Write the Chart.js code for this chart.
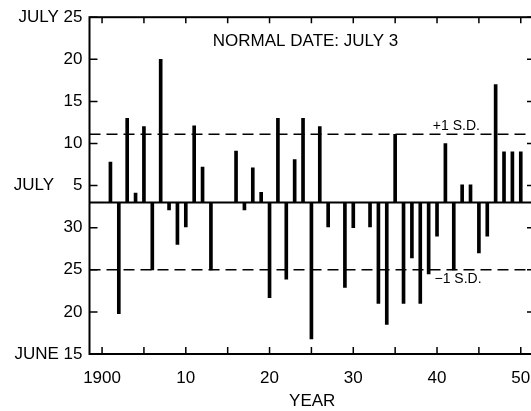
<!DOCTYPE html>
<html>
<head>
<meta charset="utf-8">
<script src="https://cdn.jsdelivr.net/npm/chart.js@4/dist/chart.umd.min.js"></script>
<style>
  html, body { margin: 0; padding: 0; background: #fff; overflow: hidden; }
  #wrap { width: 531px; height: 411px; overflow: hidden; position: relative; }
  #chart { display: block; }
</style>
</head>
<body>
<div id="wrap"><canvas id="chart" width="560" height="411"></canvas></div>
<script>
// days counted from June 30 (0 = June 30, 5 = July 5, -5 = June 25)
var years = [1900, 1901, 1902, 1903, 1904, 1905, 1906, 1907, 1908, 1909,
             1910, 1911, 1912, 1913, 1914, 1915, 1916, 1917, 1918, 1919,
             1920, 1921, 1922, 1923, 1924, 1925, 1926, 1927, 1928, 1929,
             1930, 1931, 1932, 1933, 1934, 1935, 1936, 1937, 1938, 1939,
             1940, 1941, 1942, 1943, 1944, 1945, 1946, 1947, 1948, 1949, 1950];
var onsetDay = [3, 7.8, -10.2, 13, 4.1, 12, -5, 20, 2.1, -2,
                0.1, 12.1, 7.2, -5, 3, 3, 9.1, 2.1, 7.1, 4.2,
                -8.3, 13, -6.1, 8.1, 13, -13.2, 12, 0.1, 3, -7.1,
                0, 3, 0.1, -9, -11.5, 11.1, -9, -3.6, -9, -5.5,
                -1, 10, -5, 5.1, 5.1, -3, -1, 17, 9, 9, 9];

var normalDay = 3;      // July 3
var plusSD = 11.1;
var minusSD = -5;

var yTickValues = [-15, -10, -5, 0, 5, 10, 15, 20, 25];
var yTickLabels = ['JUNE 15', '20', '25', '30', 'JULY    5', '10', '15', '20', 'JULY 25'];
var xTickValues = [1900, 1905, 1910, 1915, 1920, 1925, 1930, 1935, 1940, 1945, 1950];
var xTickLabels = ['1900', '', '10', '', '20', '', '30', '', '40', '', '50'];

var xMin = 1898.5, xMax = 1951.7;
var FONT = 'Liberation Sans, Arial, Helvetica, sans-serif';

var bars = years.map(function (yr, i) {
  return { x: yr, y: [normalDay, onsetDay[i]] };
});

function flatLine(v) {
  return [{ x: xMin, y: v }, { x: xMax, y: v }];
}

// frame with inward ticks, plus the text notes inside the plot
var framePlugin = {
  id: 'frame',
  afterDatasetsDraw: function (chart) {
    var ctx = chart.ctx, a = chart.chartArea;
    var xs = chart.scales.x, ys = chart.scales.y;
    ctx.save();
    ctx.strokeStyle = '#000';
    ctx.lineWidth = 2;
    ctx.strokeRect(a.left, a.top, a.right - a.left, a.bottom - a.top);
    ctx.lineWidth = 1.5;
    ctx.beginPath();
    xTickValues.forEach(function (v) {
      var px = xs.getPixelForValue(v);
      ctx.moveTo(px, a.bottom); ctx.lineTo(px, a.bottom - 7);
      ctx.moveTo(px, a.top); ctx.lineTo(px, a.top + 6);
    });
    yTickValues.forEach(function (v) {
      var py = ys.getPixelForValue(v);
      ctx.moveTo(a.left, py); ctx.lineTo(a.left + 8, py);
      ctx.moveTo(a.right, py); ctx.lineTo(a.right - 8, py);
    });
    ctx.stroke();

    ctx.fillStyle = '#000';
    ctx.textBaseline = 'middle';
    ctx.font = '17px ' + FONT;
    ctx.textAlign = 'center';
    ctx.fillText('NORMAL DATE: JULY 3', xs.getPixelForValue(1924.3), ys.getPixelForValue(22.1));
    ctx.font = '14px ' + FONT;
    ctx.textAlign = 'left';
    ctx.fillText('+1 S.D.', xs.getPixelForValue(1939.5), ys.getPixelForValue(12.1));
    ctx.fillText('\u22121 S.D.', xs.getPixelForValue(1939.7), ys.getPixelForValue(-6.1));
    ctx.restore();
  }
};

new Chart(document.getElementById('chart').getContext('2d'), {
  data: {
    datasets: [
      {
        type: 'bar',
        data: bars,
        backgroundColor: '#000',
        barThickness: 3,
        order: 1
      },
      {
        type: 'line',
        data: flatLine(normalDay),
        borderColor: '#000',
        borderWidth: 2,
        pointRadius: 0,
        order: 2
      },
      {
        type: 'line',
        data: flatLine(plusSD),
        borderColor: '#000',
        borderWidth: 1.5,
        borderDash: [11, 6],
        pointRadius: 0,
        order: 3
      },
      {
        type: 'line',
        data: flatLine(minusSD),
        borderColor: '#000',
        borderWidth: 1.5,
        borderDash: [11, 6],
        pointRadius: 0,
        order: 4
      }
    ]
  },
  options: {
    responsive: false,
    animation: false,
    layout: { padding: { top: 17, right: 25, left: 0, bottom: 0 } },
    plugins: {
      legend: { display: false },
      title: { display: false },
      tooltip: { enabled: false }
    },
    scales: {
      x: {
        type: 'linear',
        offset: false,
        min: xMin,
        max: xMax,
        grid: { display: false, drawTicks: false },
        border: { display: false },
        afterBuildTicks: function (s) {
          s.ticks = xTickValues.map(function (v) { return { value: v }; });
        },
        afterFit: function (s) { s.height = 57; },
        ticks: {
          color: '#000',
          padding: 14,
          maxRotation: 0,
          autoSkip: false,
          font: { family: FONT, size: 17 },
          callback: function (v) { return xTickLabels[xTickValues.indexOf(v)]; }
        },
        title: {
          display: true,
          text: 'YEAR',
          color: '#000',
          padding: { top: 0, bottom: -1 },
          font: { family: FONT, size: 17 }
        }
      },
      y: {
        min: -15,
        max: 25,
        grid: { display: false, drawTicks: false },
        border: { display: false },
        afterBuildTicks: function (s) {
          s.ticks = yTickValues.map(function (v) { return { value: v }; });
        },
        afterFit: function (s) { s.width = 89.5; },
        ticks: {
          color: '#000',
          padding: 7,
          autoSkip: false,
          font: { family: FONT, size: 17 },
          callback: function (v) { return yTickLabels[yTickValues.indexOf(v)]; }
        }
      }
    }
  },
  plugins: [framePlugin]
});
</script>
</body>
</html>
